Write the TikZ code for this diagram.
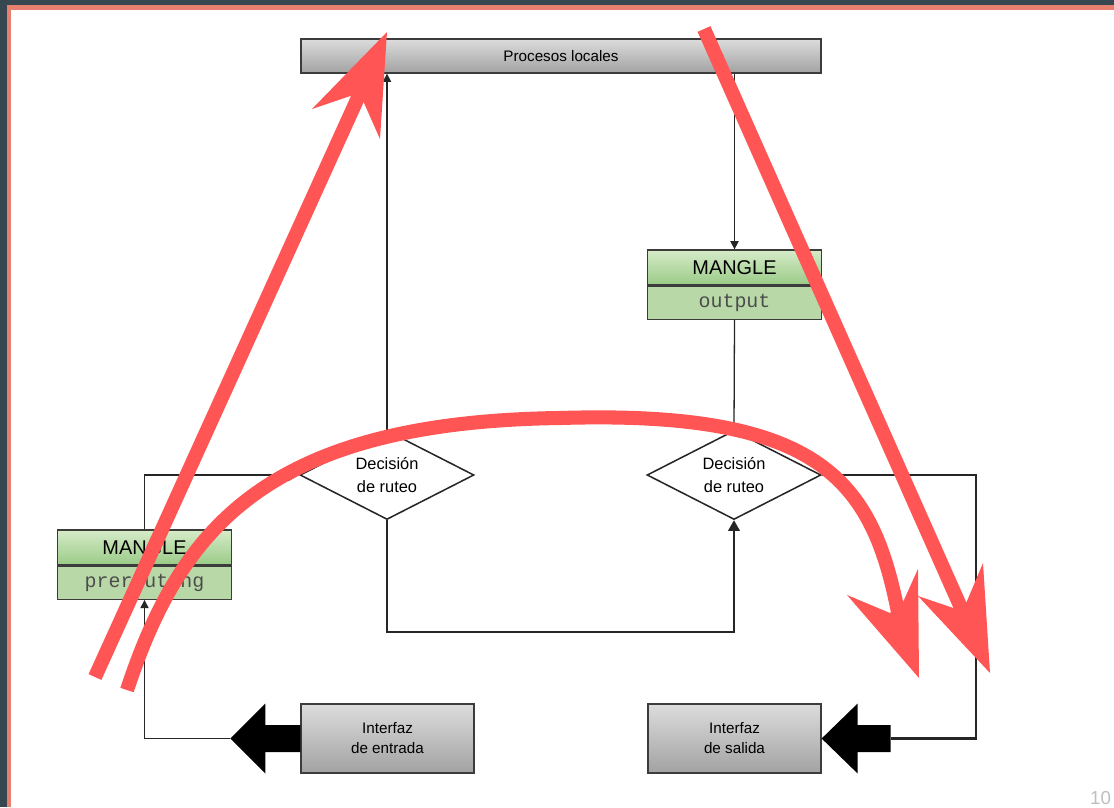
\documentclass[tikz,border=0pt]{standalone}
\usepackage{fontspec}
\setmainfont{Liberation Sans}
\setmonofont{Liberation Mono}
\usepackage{tikz}
\usetikzlibrary{arrows.meta}
\usetikzlibrary{shapes.geometric}
\usetikzlibrary{positioning}

\definecolor{slate}{HTML}{37474F}
\definecolor{salmon}{HTML}{E88070}
\definecolor{redmark}{HTML}{FF5555}
\definecolor{grayhi}{HTML}{DCDCDC}
\definecolor{graylo}{HTML}{A2A2A2}
\definecolor{greenhi}{HTML}{D6ECC8}
\definecolor{greenlo}{HTML}{9ACA87}
\definecolor{greenfl}{HTML}{B8D9A7}
\definecolor{linegray}{HTML}{262626}

\begin{document}
\begin{tikzpicture}[
    x=0.03cm, y=-0.03cm,
    graybox/.style={draw=linegray!90, line width=1.1pt, top color=grayhi, bottom color=graylo,
        minimum width=5.19cm, minimum height=2.07cm, align=center, font=\fontsize{13}{17}\selectfont},
    manglehead/.style={draw=linegray!90, line width=1.1pt, top color=greenhi, bottom color=greenlo,
        minimum width=5.2cm, minimum height=1.05cm, inner sep=0pt, font=\fontsize{17}{17}\selectfont},
    mangletab/.style={draw=linegray!90, line width=1.1pt, fill=greenfl, minimum width=5.2cm,
        minimum height=0.99cm, inner sep=0pt, text=black!70, font=\ttfamily\fontsize{17}{17}\selectfont},
    decision/.style={diamond, draw=linegray, line width=1.3pt, fill=white, aspect=2, inner sep=0pt,
        minimum width=5.22cm, minimum height=2.67cm, align=center, font=\fontsize{14}{20}\selectfont},
    wire/.style={draw=linegray, line width=1.1pt},
    arrowed/.style={-{Triangle[length=7pt,width=7pt]}},
    arrowedbig/.style={-{Triangle[length=9pt,width=10pt]}},
    redline/.style={draw=redmark, line width=12pt}
]
    \useasboundingbox (0,0) rectangle (1114,807);
    \clip (0,0) rectangle (1114,807);

    % Frame
    \fill[slate] (0,0) rectangle (1114,807);
    \fill[salmon] (7,5) rectangle (1114,807);
    \fill[white] (10.5,9.5) rectangle (1114,807);
    \node[anchor=base west, text=black!25, inner sep=0pt, font=\fontsize{16}{16}\selectfont] (pagenum) at (1090,804) {10};

    % Nodes
    \node[graybox, minimum width=15.6cm, minimum height=1.02cm, font=\fontsize{13}{15}\selectfont] (proc) at (561,56) {Procesos locales};
    \node[manglehead] (mout) at (734.5,267.5) {MANGLE};
    \node[mangletab, below=0pt of mout] (mouttab) {output};
    \node[manglehead] (mpre) at (144.5,547.5) {MANGLE};
    \node[mangletab, below=0pt of mpre] (mpretab) {prerouting};
    \node[decision] (dec1) at (387,475) {Decisión\\de ruteo};
    \node[decision] (dec2) at (734,475) {Decisión\\de ruteo};
    \node[graybox] (ent) at (387.5,738.5) {Interfaz\\de entrada};
    \node[graybox] (sal) at (734.5,738.5) {Interfaz\\de salida};
    \coordinate (bend) at (560,632);
    \coordinate (corner) at (976,475);

    % Big arrows
    \fill[black] (ent.west) -- ++(0,-13.5) -- ++(-35,0) -- ++(0,-21.5) -- ++(-35,35) coordinate (enttip)
        -- ++(35,35) -- ++(0,-21.5) -- ++(35,0) -- cycle;
    \fill[black] (sal.east) -- ++(36,-35) -- ++(0,21.5) -- ++(33,0) -- ++(0,13.5) coordinate (saltail)
        -- ++(0,13.5) -- ++(-33,0) -- ++(0,21.5) -- cycle;

    % Edges
    \draw[wire, arrowed] (enttip) -| (mpretab.south);
    \draw[wire, arrowedbig] (mpre.north) |- (dec1.west);
    \draw[wire, arrowed] (dec1.north) -- (dec1.north |- proc.south);
    \draw[wire, arrowed] (mout.north |- proc.south) -- (mout.north);
    \draw[wire] (mouttab.south) -- (dec2.north);
    \draw[wire, arrowedbig] (dec1.south) |- (bend) -| (dec2.south);
    \draw[wire, line width=2.2pt] (dec2.east) -- (corner) |- (saltail);

    % Red marks
    \draw[redline] (95,677) -- (361,91);
    \fill[redmark] (387,32) -- (312,109) -- (350.4,96) -- (363.6,102) -- (380,139) -- cycle;
    \draw[redline] (704,29) -- (962,610);
    \fill[redmark] (990,673) -- (983,563) -- (966.6,602) -- (953.4,608) -- (918,596) -- cycle;
    \draw[redline] (127,690) .. controls (180,530) and (265,422) .. (560,418)
        .. controls (820,410) and (872,480) .. (898,612);
    \fill[redmark] (919,678) -- (918,569) -- (902.7,602.7) -- (890,613) -- (847,595) -- cycle;
\end{tikzpicture}
\end{document}
